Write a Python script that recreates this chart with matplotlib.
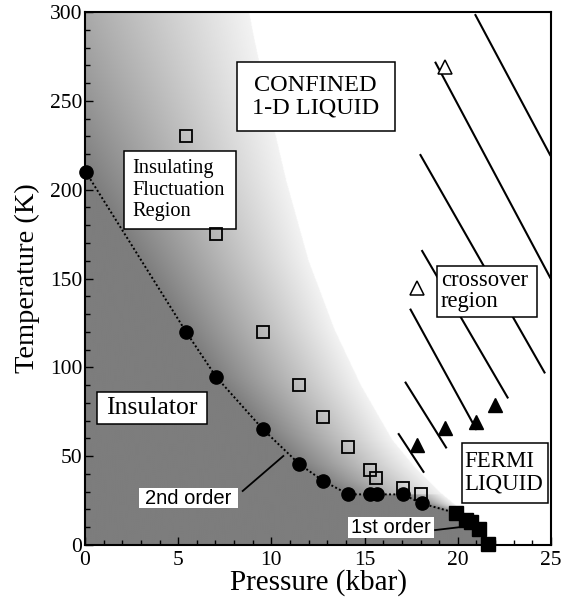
import numpy as np
import matplotlib
matplotlib.use('Agg')
import matplotlib.pyplot as plt
from matplotlib.patches import Rectangle

# ---------------- data ----------------
# 2nd-order transition (filled circles)
p_second = [0.04, 5.42, 7.03, 9.53, 11.5, 12.79, 14.13, 15.29, 15.65, 17.04, 18.06]
t_second = [210.0, 120.0, 94.7, 65.3, 45.5, 36.0, 28.5, 28.5, 28.5, 28.5, 23.4]
# 1st-order transition (filled squares)
p_first = [19.9, 20.44, 20.72, 21.15, 21.6]
t_first = [18.0, 14.3, 12.8, 9.0, 0.4]
# insulating fluctuation onset (open squares)
p_open_sq = [5.42, 7.03, 9.53, 11.5, 12.79, 14.13, 15.29, 15.6, 17.04, 18.03]
t_open_sq = [230.0, 174.8, 120.0, 90.0, 72.2, 55.3, 42.2, 37.5, 31.9, 28.5]
# Fermi-liquid onset (filled triangles)
p_tri_fill = [17.8, 19.31, 21.0, 22.0]
t_tri_fill = [56.3, 65.7, 69.4, 78.8]
# crossover (open triangles)
p_tri_open = [17.8, 19.31]
t_tri_open = [144.4, 269.0]
# hatch segments of the crossover region
hatch_p0 = [20.92, 18.78, 17.97, 18.06, 17.44, 17.17, 16.80]
hatch_t0 = [298.8, 272.0, 220.0, 166.0, 133.0, 91.9, 62.9]
hatch_p1 = [24.98, 24.98, 24.68, 22.70, 21.01, 19.40, 18.19]
hatch_t1 = [219.0, 150.0, 96.6, 82.5, 64.7, 54.4, 40.7]
# right (white) edge of the grey shading
shade_t = [0, 18, 30, 45, 59, 90, 121, 160, 205, 250, 284, 300]
shade_p_white = [21.7, 20.4, 19.0, 17.6, 16.5, 14.8, 13.4, 12.0, 10.8, 9.8, 9.1, 8.8]

x_ticks = [0, 5, 10, 15, 20, 25]
y_ticks = [0, 50, 100, 150, 200, 250, 300]

SERIF = ['Liberation Serif', 'DejaVu Serif']
SANS = ['Liberation Sans', 'DejaVu Sans']

fig = plt.figure(figsize=(5.75, 6.01), dpi=100)
ax = fig.add_axes([85/575, 1-545/601, (551-85)/575, (545-12)/601])

# ---------------- background shading ----------------
P = np.linspace(0, 25, 700)
T = np.linspace(0, 300, 800)
PP, TT = np.meshgrid(P, T)
line_p = np.array(p_second + p_first)
line_t = np.array(t_second + t_first)
t_line = np.interp(PP, line_p, line_t, left=line_t[0], right=-1.0)
pc = np.interp(TT, line_t[::-1], line_p[::-1])
slope = (line_p[1] - line_p[0]) / (line_t[1] - line_t[0])
pc = np.where(TT > line_t[0], line_p[0] + (TT - line_t[0]) * slope, pc)
pw = np.interp(TT, shade_t, shade_p_white)
s = np.clip((PP - pc) / np.maximum(pw - pc, 1e-3), 0, 1)
dark = 0.49
gray = dark + (0.95 - dark) * s
gray[PP >= pw] = 1.0
gray[TT <= t_line] = dark
ax.imshow(gray, cmap='gray', vmin=0, vmax=1, origin='lower',
          extent=[0, 25, 0, 300], aspect='auto', interpolation='bilinear', zorder=0)

# ---------------- hatch lines ----------------
for a, b, c, d in zip(hatch_p0, hatch_t0, hatch_p1, hatch_t1):
    ax.plot([a, c], [b, d], color='k', lw=1.5, zorder=2, solid_capstyle='butt')

# ---------------- transition line and markers ----------------
ax.plot(line_p, line_t, color='k', lw=1.4, ls=(0, (1, 1.2)), zorder=3)
ax.plot(p_second, t_second, 'o', color='k', ms=9.5, zorder=6, clip_on=False)
ax.plot(p_first, t_first, 's', color='k', ms=9.5, zorder=6, clip_on=False)
ax.plot(p_open_sq, t_open_sq, 's', mfc='none', mec='k', mew=1.3, ms=8, zorder=6)
ax.plot(p_tri_fill, t_tri_fill, '^', color='k', ms=10.5, zorder=6)
ax.plot(p_tri_open, t_tri_open, '^', mfc='white', mec='k', mew=1.1, ms=10.5, zorder=6)

# ---------------- labelled boxes ----------------
def box(p0, p1, t0, t1, edge=True):
    ax.add_patch(Rectangle((p0, t0), p1 - p0, t1 - t0, facecolor='white',
                           edgecolor='k' if edge else 'none', lw=1.1, zorder=5))

box(8.14, 16.63, 233.0, 272.0)
ax.text(12.38, 252.5, 'CONFINED\n1-D LIQUID', ha='center', va='center',
        fontsize=17.5, family=SERIF, linespacing=1.1, zorder=7)

box(2.11, 8.10, 177.8, 221.7)
ax.text(2.55, 199.8, 'Insulating\nFluctuation\nRegion', ha='left', va='center',
        fontsize=14.7, family=SERIF, linespacing=1.15, zorder=7)

box(0.64, 6.55, 68.1, 86.3)
ax.text(3.6, 77.0, 'Insulator', ha='center', va='center',
        fontsize=18.5, family=SERIF, zorder=7)

box(18.87, 24.23, 128.5, 157.0)
ax.text(19.08, 142.7, 'crossover\nregion', ha='left', va='center',
        fontsize=16.3, family=SERIF, linespacing=1.0, zorder=7)

box(20.21, 24.82, 23.8, 57.6)
ax.text(20.35, 40.7, 'FERMI\nLIQUID', ha='left', va='center',
        fontsize=16.5, family=SERIF, linespacing=1.1, zorder=7)

box(2.9, 8.2, 20.8, 32.2, edge=False)
ax.text(5.55, 26.3, '2nd order', ha='center', va='center',
        fontsize=14.5, family=SANS, zorder=7)
ax.plot([8.46, 10.64], [30.4, 50.1], color='k', lw=1.3, zorder=4)

box(14.13, 18.73, 3.9, 15.6, edge=False)
ax.text(16.43, 9.6, '1st order', ha='center', va='center',
        fontsize=14.5, family=SANS, zorder=7)
ax.plot([18.78, 20.4], [8.4, 10.4], color='k', lw=1.3, zorder=4)

# ---------------- axes ----------------
ax.set_xlim(0, 25)
ax.set_ylim(0, 300)
ax.set_xticks(x_ticks)
ax.set_yticks(y_ticks)
ax.set_xticks(np.arange(0, 26, 1), minor=True)
ax.set_yticks(np.arange(0, 301, 10), minor=True)
ax.tick_params(which='both', direction='in', top=False, right=False, width=1.0)
ax.tick_params(which='major', length=5.5)
ax.tick_params(axis='y', which='major', pad=2)
ax.tick_params(axis='x', which='major', pad=4)
ax.tick_params(which='minor', length=3.8)
for lab in ax.get_xticklabels() + ax.get_yticklabels():
    lab.set_family(SERIF)
    lab.set_fontsize(15.5)
for sp in ax.spines.values():
    sp.set_linewidth(1.5)
    sp.set_zorder(8)
ax.set_xlabel('Pressure (kbar)', family=SERIF, fontsize=21, labelpad=0)
ax.set_ylabel('Temperature (K)', family=SERIF, fontsize=20.5, labelpad=7)

fig.savefig('out.png', dpi=100)
